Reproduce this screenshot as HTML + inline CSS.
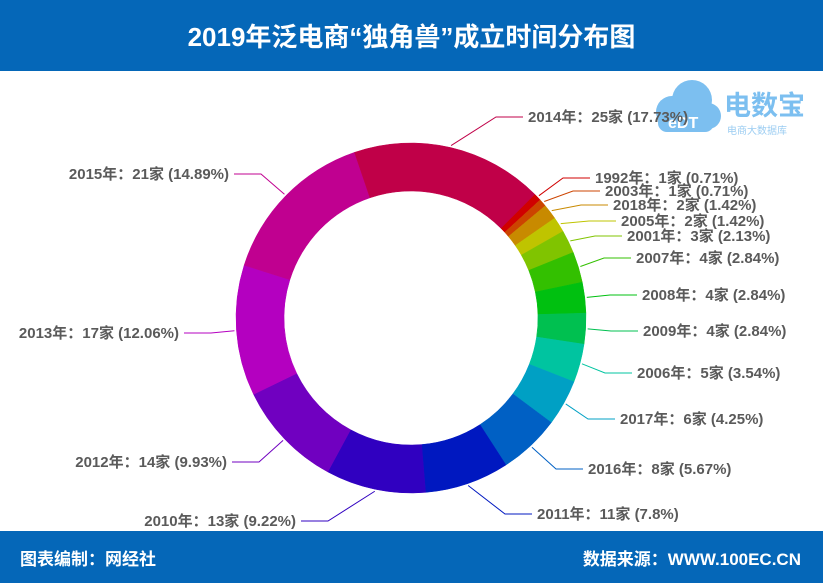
<!DOCTYPE html>
<html><head><meta charset="utf-8"><style>
body{margin:0;width:823px;height:583px;overflow:hidden;background:#fff;font-family:"Liberation Sans","Noto Sans CJK SC",sans-serif;}
.top{position:absolute;left:0;top:0;width:823px;height:71px;background:#0567b8;color:#fff;font-weight:bold;font-size:26px;text-align:center;line-height:74px;}
.bot{position:absolute;left:0;top:531px;width:823px;height:52px;background:#0567b8;color:#fff;font-weight:bold;font-size:17px;}
svg{position:absolute;left:0;top:0}
</style></head><body>
<div class="top">2019年泛电商“独角兽”成立时间分布图</div>
<svg id="s" width="823" height="583"></svg>
<div class="bot"><span style="position:absolute;left:20px;top:14px">图表编制：网经社</span><span style="position:absolute;right:22px;top:14px">数据来源：WWW.100EC.CN</span></div>
<script>
var d=[["1992",1,"0.71%","#d00000",595,178],["2003",1,"0.71%","#cc4400",605,191],["2018",2,"1.42%","#c88a00",613,205],["2005",2,"1.42%","#bfc400",621,221],["2001",3,"2.13%","#80c400",627,236],["2007",4,"2.84%","#33c000",636,258],["2008",4,"2.84%","#00c010",642,295],["2009",4,"2.84%","#00c050",643,331],["2006",5,"3.54%","#00c4a0",637,373],["2017",6,"4.25%","#00a0c4",620,419],["2016",8,"5.67%","#0060c4",588,469],["2011",11,"7.8%","#0018c0",537,514],["2010",13,"9.22%","#3000c0",-296,521],["2012",14,"9.93%","#7000c0",-227,462],["2013",17,"12.06%","#b400c0",-179,333],["2015",21,"14.89%","#c00090",-229,174],["2014",25,"17.73%","#c00048",528,117]];
var cx=411,cy=318,R=175,r=127,a=45,h='';
h+='<g fill="#7cbff0"><circle cx="672" cy="112" r="16"/><circle cx="692" cy="100" r="20"/><circle cx="708" cy="116" r="13"/><rect x="658" y="112" width="56" height="20" rx="9"/></g><text x="668" y="128" fill="#fff" font-size="16" font-weight="bold">eDT</text><text x="724" y="115" fill="#7cbff0" font-size="27" font-weight="bold">电数宝</text><text x="727" y="134" fill="#9ccdf2" font-size="10">电商大数据库</text>';
function P(rad,ang){var t=(ang-90)*Math.PI/180;return [cx+rad*Math.cos(t),cy+rad*Math.sin(t)];}
d.forEach(function(e){var sw=e[1]/141*360,b=a+sw,L=sw>180?1:0;
var p1=P(R,a),p2=P(R,b),p3=P(r,b),p4=P(r,a);
h+='<path d="M'+p1+'A'+R+','+R+' 0 '+L+' 1 '+p2+'L'+p3+'A'+r+','+r+' 0 '+L+' 0 '+p4+'Z" fill="'+e[3]+'" stroke="'+e[3]+'" stroke-width="0.5"/>';
var m=P(R+2,a+sw/2),lx=e[4],ly=e[5],left=lx<0;lx=Math.abs(lx);
var ex=left?lx+32:lx-32,tx=left?lx+5:lx-5;
h+='<polyline points="'+m+' '+ex+','+ly+' '+tx+','+ly+'" fill="none" stroke="'+e[3]+'" stroke-width="1"/>';
h+='<text x="'+lx+'" y="'+(ly+5)+'" font-size="15" font-weight="bold" fill="#5a5a5a" text-anchor="'+(left?'end':'start')+'">'+e[0]+'年：'+e[1]+'家 ('+e[2]+')</text>';
a=b;});
document.getElementById('s').innerHTML=h;
</script>
</body></html>
